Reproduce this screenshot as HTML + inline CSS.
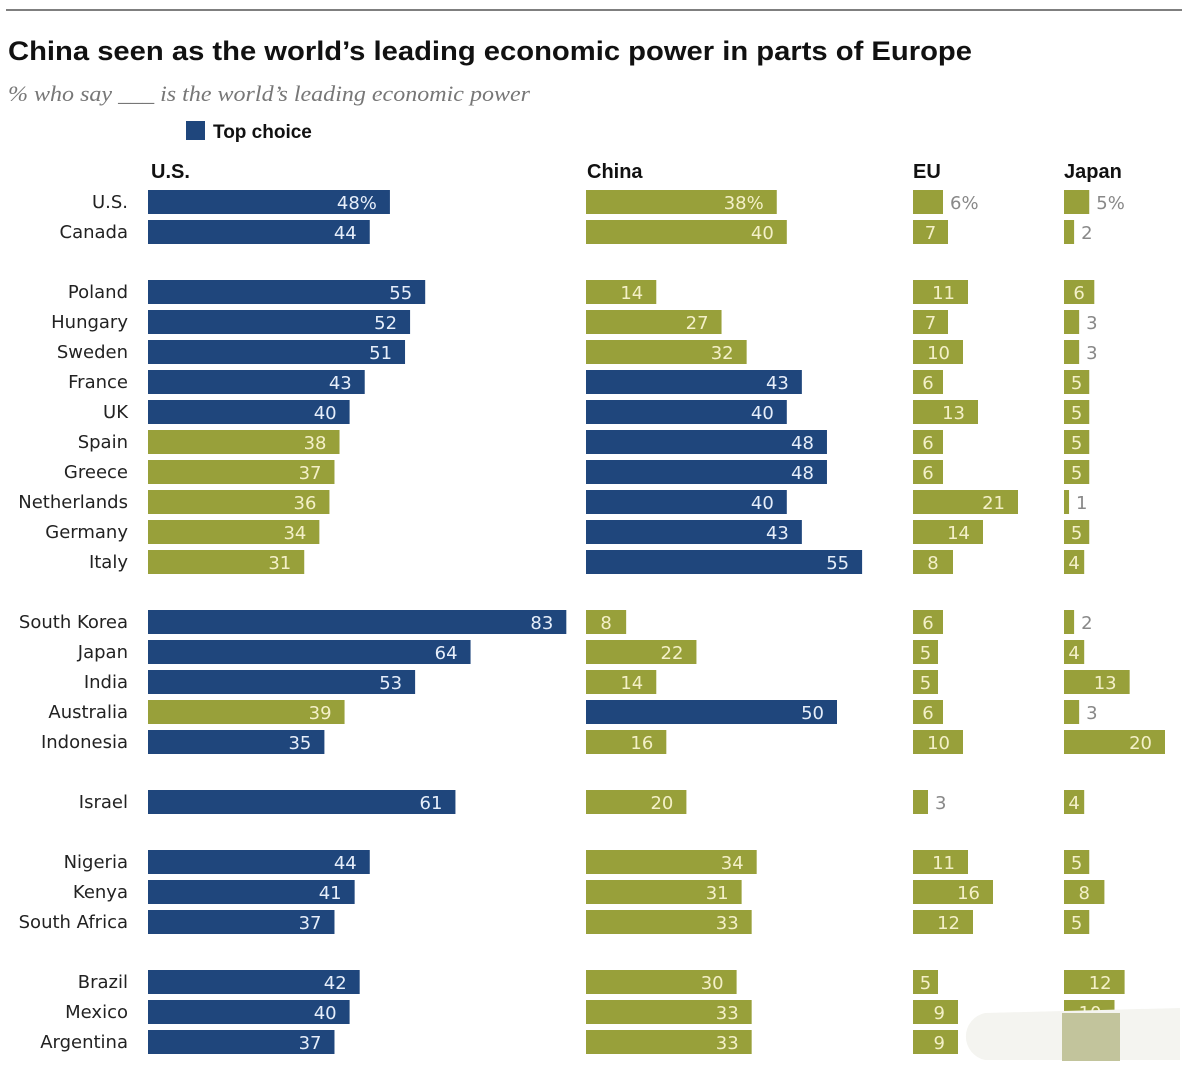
<!DOCTYPE html>
<html><head><meta charset="utf-8"><style>
body{margin:0;background:#fff;width:1188px;height:1080px;overflow:hidden;font-family:"Liberation Sans",sans-serif}
</style></head><body>
<svg id="chart" width="1188" height="1080" xmlns="http://www.w3.org/2000/svg">
<line x1="6" y1="10" x2="1182" y2="10" stroke="#555" stroke-width="1.5"/>
<text x="8" y="60" font-size="27" font-weight="bold" fill="#111" textLength="964" lengthAdjust="spacingAndGlyphs">China seen as the world’s leading economic power in parts of Europe</text>
<text x="8" y="101" font-size="22" font-style="italic" fill="#777" font-family="Liberation Serif,serif" textLength="522" lengthAdjust="spacingAndGlyphs">% who say ___ is the world’s leading economic power</text>
<rect x="186" y="121" width="19" height="19" fill="#1f467c"/>
<text x="213" y="138" font-size="19" font-weight="bold" fill="#111">Top choice</text>
<g id="g"></g>
<path d="M985 1013 L1180 1008 L1180 1060 L985 1060 A24 24 0 0 1 985 1013 Z" fill="#f4f4f0"/>
<rect x="1062" y="1013" width="58" height="48" fill="#c2c49c"/>
</svg>
<script>
const countries=["U.S.","Canada","Poland","Hungary","Sweden","France","UK","Spain","Greece","Netherlands","Germany","Italy","South Korea","Japan","India","Australia","Indonesia","Israel","Nigeria","Kenya","South Africa","Brazil","Mexico","Argentina"];
const usVals=[48,44,55,52,51,43,40,38,37,36,34,31,83,64,53,39,35,61,44,41,37,42,40,37];
const chinaVals=[38,40,14,27,32,43,40,48,48,40,43,55,8,22,14,50,16,20,34,31,33,30,33,33];
const euVals=[6,7,11,7,10,6,13,6,6,21,14,8,6,5,5,6,10,3,11,16,12,5,9,9];
const japanVals=[5,2,6,3,3,5,5,5,5,1,5,4,2,4,13,3,20,4,5,8,5,12,10,null];
const groupOf=[0,0,1,1,1,1,1,1,1,1,1,1,2,2,2,2,2,3,4,4,4,5,5,5];
const columns=["U.S.","China","EU","Japan"];
const colX=[148,586,913,1064];
const scales=[5.04,5.02,5.0,5.05];
const headX=[151,587,913,1064];
const NS="http://www.w3.org/2000/svg";
const g=document.getElementById('g');
const BLUE="#1f467c",OLIVE="#98a03a";
const LF='"DejaVu Sans",sans-serif';
function yOf(i){return 201+i*30+groupOf[i]*30;}
function mk(tag,attrs){const e=document.createElementNS(NS,tag);for(const k in attrs)e.setAttribute(k,attrs[k]);return e;}
columns.forEach((c,j)=>{const t=mk('text',{x:headX[j],y:178,'font-size':20,'font-weight':'bold',fill:'#111'});


t.textContent=c;g.appendChild(t);});
const series=[usVals,chinaVals,euVals,japanVals];
countries.forEach((name,i)=>{
 const y=yOf(i);
 const t=mk('text',{x:128,y:y+7,'font-size':18,fill:'#222','text-anchor':'end','font-family':LF});
 
 
 t.textContent=name;g.appendChild(t);
 const row=series.map(s=>s[i]);
 const mx=Math.max(...row.filter(v=>v!=null));
 series.forEach((s,j)=>{
  const v=s[i];if(v==null)return;
  const w=v*scales[j];
  const top=(v===mx)&&j<2;
  const r=mk('rect',{x:colX[j],y:y-11,width:w,height:24,fill:top?BLUE:OLIVE});
  
  
  g.appendChild(r);
  const lbl=i===0?v+'%':''+v;
  const outside=v<=3||(i===0&&j>=2);
  let tx;
  if(outside){tx=mk('text',{x:colX[j]+w+7,y:y+8,'font-size':18,fill:'#888','font-family':LF});}
  else if(w<45){tx=mk('text',{x:colX[j]+w/2,y:y+8,'font-size':18,fill:'#f4f0c8','text-anchor':'middle','font-family':LF});}
  else{tx=mk('text',{x:colX[j]+w-13,y:y+8,'font-size':18,fill:top?'#e6eefa':'#f4f0c8','text-anchor':'end','font-family':LF});}
  
  
  tx.textContent=lbl;g.appendChild(tx);
 });
});
</script>
</body></html>
